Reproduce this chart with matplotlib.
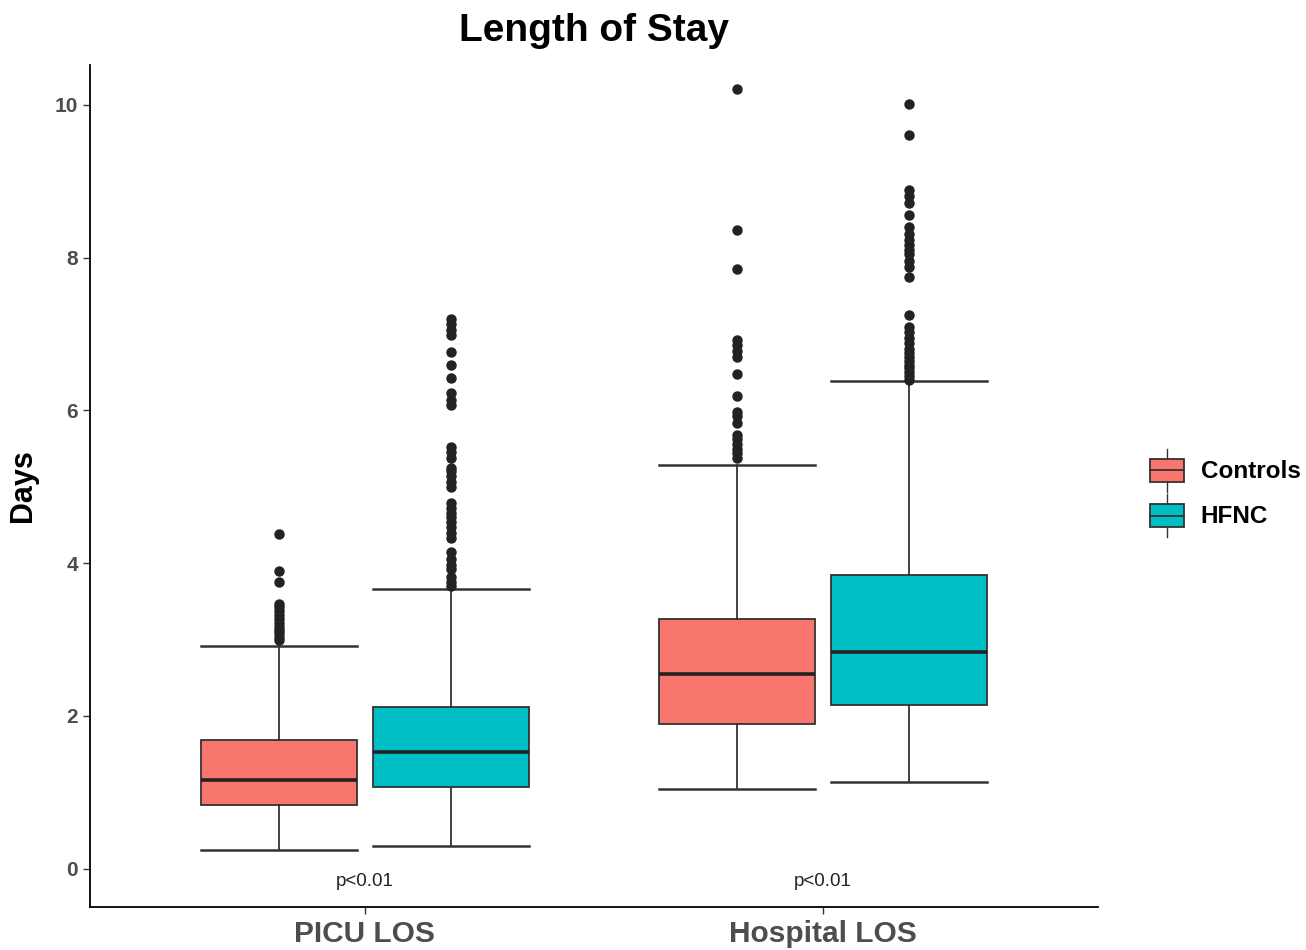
import matplotlib.pyplot as plt
from matplotlib.patches import Rectangle
from matplotlib.lines import Line2D
from matplotlib.legend_handler import HandlerBase

plt.rcParams['font.family'] = ['Liberation Sans', 'DejaVu Sans']

categories = ['PICU LOS', 'Hospital LOS']
groups = ['Controls', 'HFNC']
colors = {'Controls': '#F8766D', 'HFNC': '#00BFC4'}

# five-number summaries: low whisker, q1, median, q3, high whisker
picu_controls = [0.25, 0.84, 1.16, 1.68, 2.92]
picu_hfnc = [0.30, 1.07, 1.53, 2.12, 3.66]
hosp_controls = [1.05, 1.90, 2.55, 3.27, 5.29]
hosp_hfnc = [1.13, 2.15, 2.84, 3.84, 6.39]

picu_controls_out = [3.00, 3.04, 3.08, 3.12, 3.17, 3.22, 3.27, 3.32, 3.37, 3.42,
                     3.47, 3.76, 3.90, 4.38]
picu_hfnc_out = [3.70, 3.75, 3.82, 3.92, 3.98, 4.05, 4.14, 4.33, 4.40, 4.47, 4.54,
                 4.60, 4.66, 4.72, 4.79, 5.00, 5.06, 5.14, 5.20, 5.25, 5.38, 5.45,
                 5.52, 6.07, 6.13, 6.23, 6.43, 6.60, 6.77, 6.99, 7.05, 7.13, 7.19]
hosp_controls_out = [5.38, 5.44, 5.50, 5.56, 5.62, 5.68, 5.84, 5.92, 5.98, 6.19,
                     6.47, 6.70, 6.78, 6.86, 6.92, 7.85, 8.36, 10.20]
hosp_hfnc_out = [6.40, 6.45, 6.50, 6.55, 6.60, 6.65, 6.70, 6.75, 6.80, 6.88,
                 6.95, 7.02, 7.09, 7.25, 7.74, 7.88, 7.96, 8.04, 8.10, 8.17,
                 8.23, 8.31, 8.40, 8.56, 8.72, 8.80, 8.89, 9.61, 10.01]

p_labels = ['p<0.01', 'p<0.01']

summaries = {
    ('PICU LOS', 'Controls'): (picu_controls, picu_controls_out),
    ('PICU LOS', 'HFNC'): (picu_hfnc, picu_hfnc_out),
    ('Hospital LOS', 'Controls'): (hosp_controls, hosp_controls_out),
    ('Hospital LOS', 'HFNC'): (hosp_hfnc, hosp_hfnc_out),
}

fig = plt.figure(figsize=(13.06, 9.5), dpi=100)
ax = fig.add_axes([90 / 1306, 1 - 907 / 950, 1008 / 1306, 842 / 950])

edge = '#333333'
offset = 0.188
width = 0.34
for i, cat in enumerate(categories):
    for j, g in enumerate(groups):
        five, out = summaries[(cat, g)]
        stats = [dict(whislo=five[0], q1=five[1], med=five[2], q3=five[3],
                      whishi=five[4], fliers=out)]
        pos = i + 1 + (offset if j else -offset)
        ax.bxp(stats, positions=[pos], widths=width, patch_artist=True,
               boxprops=dict(facecolor=colors[g], edgecolor=edge, linewidth=1.3),
               medianprops=dict(color='#222222', linewidth=2.6),
               whiskerprops=dict(color=edge, linewidth=1.3),
               capprops=dict(color=edge, linewidth=1.8),
               capwidths=width,
               flierprops=dict(marker='o', markerfacecolor='#222222',
                               markeredgecolor='#222222', markersize=6.5),
               manage_ticks=False)
    ax.text(i + 1, -0.16, p_labels[i], ha='center', va='center', fontsize=13.5,
            color='#222222')

ax.set_xlim(0.4, 2.6)
ax.set_ylim(-0.5, 10.52)
ax.set_xticks([1, 2])
ax.set_xticklabels(categories, fontsize=21.5, fontweight='bold', color='#4D4D4D')
ax.set_yticks([0, 2, 4, 6, 8, 10])
ax.set_yticklabels(['0', '2', '4', '6', '8', '10'], fontsize=15,
                   fontweight='bold', color='#4D4D4D')
ax.tick_params(length=5, width=1, color='#333333')
ax.tick_params(axis='x', pad=4)
for s in ['top', 'right']:
    ax.spines[s].set_visible(False)
for s in ['left', 'bottom']:
    ax.spines[s].set_linewidth(1.3)
ax.set_ylabel('Days', fontsize=22, fontweight='bold', labelpad=12)
fig.text(594 / 1306, 1 - 31 / 950, 'Length of Stay', ha='center', va='center',
         fontsize=28, fontweight='bold')


class BoxKey(HandlerBase):
    def create_artists(self, legend, orig_handle, xdescent, ydescent,
                       width, height, fontsize, trans):
        fc = orig_handle.get_facecolor()
        h = height * 0.53
        y0 = (height - h) / 2 - ydescent
        x0 = -xdescent
        cx = x0 + width / 2
        rect = Rectangle((x0, y0), width, h, facecolor=fc, edgecolor=edge,
                         linewidth=1.3, transform=trans)
        med = Line2D([x0, x0 + width], [y0 + h / 2] * 2, color=edge, lw=1.3,
                     transform=trans)
        w1 = Line2D([cx, cx], [-ydescent, y0], color=edge, lw=1.0, transform=trans)
        w2 = Line2D([cx, cx], [y0 + h, height - ydescent], color=edge, lw=1.0,
                    transform=trans)
        return [w1, w2, rect, med]


handles = [Rectangle((0, 0), 1, 1, facecolor=colors[g]) for g in groups]
leg = fig.legend(handles, groups, loc='center left',
                 bbox_to_anchor=(1140 / 1306, 1 - 493 / 950),
                 handler_map={Rectangle: BoxKey()}, frameon=False,
                 prop=dict(size=17.5, weight='bold'), handlelength=1.4,
                 handleheight=2.4, handletextpad=0.7, labelspacing=0.05,
                 borderaxespad=0)

fig.savefig('out.png', dpi=100)
